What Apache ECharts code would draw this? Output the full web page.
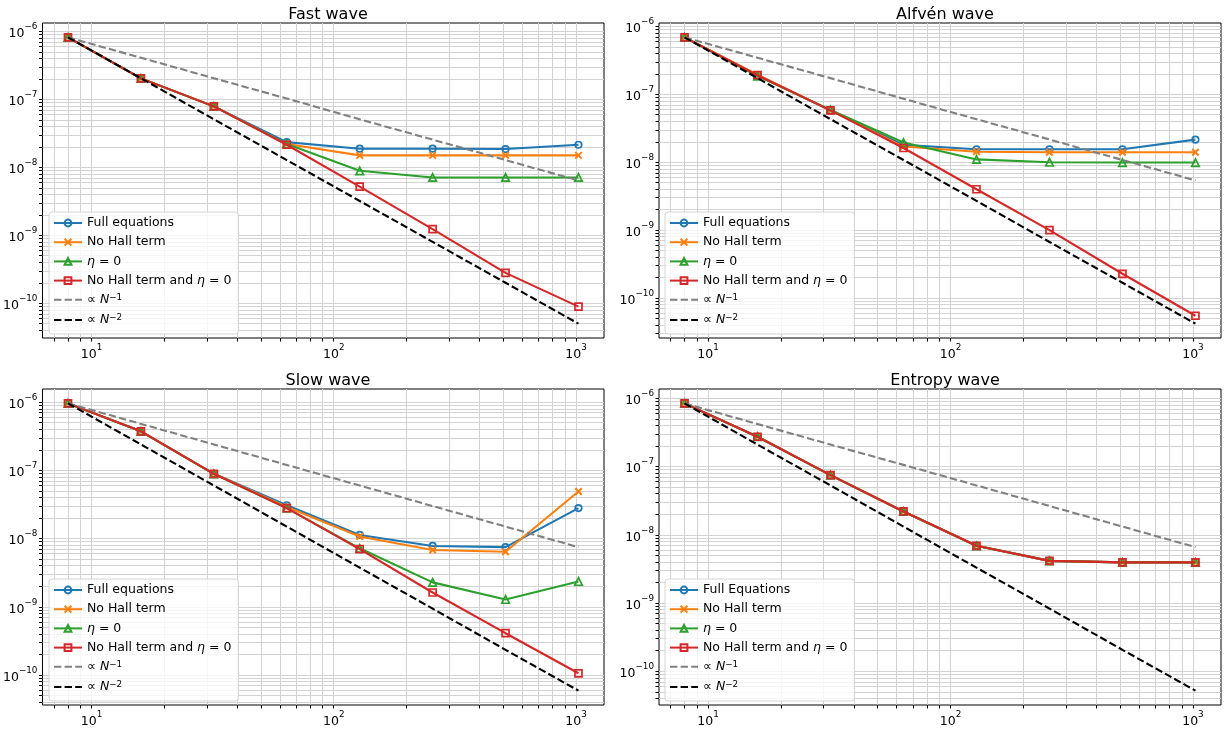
<!DOCTYPE html>
<html><head><meta charset="utf-8">
<script src="https://cdn.jsdelivr.net/npm/echarts@6/dist/echarts.min.js"></script>
<style>html,body{margin:0;padding:0;background:#fff}#c{width:1225px;height:729px}</style>
</head><body><div id="c"></div>
<script>
// ---------- data ----------
const N = [8, 16, 32, 64, 128, 256, 512, 1024];
const xMajorTicks = [10, 100, 1000];
const yMajorTicks = [1e-11, 1e-10, 1e-9, 1e-8, 1e-7, 1e-6, 1e-5];

const titles = ['Fast wave', 'Alfvén wave', 'Slow wave', 'Entropy wave'];
const fullNames = ['Full equations', 'Full equations', 'Full equations', 'Full Equations'];

const fastFull   = [8.2e-7, 2.04e-7, 7.9e-8, 2.35e-8, 1.88e-8, 1.88e-8, 1.86e-8, 2.15e-8];
const fastNoHall = [8.2e-7, 2.04e-7, 7.9e-8, 2.2e-8, 1.5e-8, 1.5e-8, 1.5e-8, 1.5e-8];
const fastEta0   = [8.2e-7, 2.04e-7, 7.9e-8, 2.2e-8, 8.9e-9, 7.1e-9, 7.1e-9, 7.1e-9];
const fastBoth   = [8.2e-7, 2.04e-7, 7.9e-8, 2.15e-8, 5.2e-9, 1.23e-9, 2.8e-10, 8.9e-11];
const fastRef1   = [8.2e-7, 4.1e-7, 2.05e-7, 1.03e-7, 5.1e-8, 2.56e-8, 1.28e-8, 6.4e-9];
const fastRef2   = [8.2e-7, 2.05e-7, 5.1e-8, 1.28e-8, 3.2e-9, 8.0e-10, 2.0e-10, 5.0e-11];

const alfFull    = [6.9e-7, 1.91e-7, 5.8e-8, 1.8e-8, 1.55e-8, 1.55e-8, 1.55e-8, 2.15e-8];
const alfNoHall  = [6.9e-7, 1.95e-7, 5.8e-8, 1.7e-8, 1.43e-8, 1.4e-8, 1.4e-8, 1.4e-8];
const alfEta0    = [6.9e-7, 1.85e-7, 5.9e-8, 1.95e-8, 1.1e-8, 1.0e-8, 9.9e-9, 9.9e-9];
const alfBoth    = [6.9e-7, 1.91e-7, 5.8e-8, 1.62e-8, 4.0e-9, 1.0e-9, 2.28e-10, 5.5e-11];
const alfRef1    = [6.9e-7, 3.45e-7, 1.73e-7, 8.6e-8, 4.3e-8, 2.16e-8, 1.08e-8, 5.4e-9];
const alfRef2    = [6.9e-7, 1.73e-7, 4.3e-8, 1.08e-8, 2.7e-9, 6.7e-10, 1.68e-10, 4.2e-11];

const slowFull   = [9.6e-7, 3.74e-7, 8.9e-8, 3.08e-8, 1.13e-8, 7.8e-9, 7.5e-9, 2.8e-8];
const slowNoHall = [9.6e-7, 3.74e-7, 8.9e-8, 2.9e-8, 1.07e-8, 6.8e-9, 6.4e-9, 4.9e-8];
const slowEta0   = [9.6e-7, 3.74e-7, 8.9e-8, 2.8e-8, 7.2e-9, 2.28e-9, 1.28e-9, 2.35e-9];
const slowBoth   = [9.6e-7, 3.74e-7, 8.9e-8, 2.8e-8, 7.0e-9, 1.62e-9, 4.1e-10, 1.06e-10];
const slowRef1   = [9.6e-7, 4.8e-7, 2.4e-7, 1.2e-7, 6.0e-8, 3.0e-8, 1.5e-8, 7.5e-9];
const slowRef2   = [9.6e-7, 2.4e-7, 6.0e-8, 1.5e-8, 3.75e-9, 9.4e-10, 2.34e-10, 5.9e-11];

const entFull    = [8.45e-7, 2.74e-7, 7.5e-8, 2.2e-8, 6.9e-9, 4.15e-9, 3.94e-9, 3.94e-9];
const entNoHall  = [8.45e-7, 2.74e-7, 7.5e-8, 2.2e-8, 6.9e-9, 4.15e-9, 3.94e-9, 3.94e-9];
const entEta0    = [8.45e-7, 2.74e-7, 7.5e-8, 2.2e-8, 6.9e-9, 4.15e-9, 3.94e-9, 3.94e-9];
const entBoth    = [8.45e-7, 2.74e-7, 7.5e-8, 2.2e-8, 6.9e-9, 4.15e-9, 3.94e-9, 3.94e-9];
const entRef1    = [8.45e-7, 4.2e-7, 2.1e-7, 1.06e-7, 5.3e-8, 2.64e-8, 1.32e-8, 6.6e-9];
const entRef2    = [8.45e-7, 2.1e-7, 5.3e-8, 1.32e-8, 3.3e-9, 8.3e-10, 2.06e-10, 5.2e-11];

const panelData = [
  [fastFull, fastNoHall, fastEta0, fastBoth, fastRef1, fastRef2],
  [alfFull, alfNoHall, alfEta0, alfBoth, alfRef1, alfRef2],
  [slowFull, slowNoHall, slowEta0, slowBoth, slowRef1, slowRef2],
  [entFull, entNoHall, entEta0, entBoth, entRef1, entRef2]
];

// ---------- layout / style ----------
const FONT = 'DejaVu Sans';
const grids = [
  {left: 42, top: 23, width: 562, height: 315},
  {left: 659, top: 23, width: 562, height: 315},
  {left: 42, top: 389, width: 562, height: 316},
  {left: 659, top: 389, width: 562, height: 316}
];
const legendPos = [{left: 49, top: 212}, {left: 665, top: 212}, {left: 49, top: 579}, {left: 665, top: 579}];

const colors = ['#1f77b4', '#ff7f0e', '#2ca02c', '#d62728', '#808080', '#000000'];
const symbols = ['circle', 'path://M0,0L10,10M10,0L0,10', 'triangle', 'rect', 'none', 'none'];
const symbolSizes = [6.5, 6.5, 7.5, 7, 0, 0];
const otherNames = ['No Hall term', 'η = 0', 'No Hall term and η = 0', '∝ N^-1', '∝ N^-2'];

const minorFactors = [1, 2, 3, 4, 5, 6, 7, 8, 9];
function logTicks(eLo, eHi) {
  const out = [];
  for (let e = eLo; e <= eHi; e++) for (const k of minorFactors) out.push(k * Math.pow(10, e));
  return out;
}
const xAllTicks = logTicks(0, 3);
const yAllTicks = logTicks(-12, -5);

function sup(v) {
  const e = Math.round(Math.log10(v));
  return '{b|10}{s|' + (e < 0 ? '−' + (-e) : e) + '}';
}
const labelRich = {
  b: {fontFamily: FONT, fontSize: 12.5, color: '#000', lineHeight: 18, verticalAlign: 'bottom'},
  s: {fontFamily: FONT, fontSize: 8.8, color: '#000', lineHeight: 18, verticalAlign: 'top'}
};

function pad(lo, hi) {
  const a = Math.log10(lo), b = Math.log10(hi), p = 0.05 * (b - a);
  return [Math.pow(10, a - p), Math.pow(10, b + p)];
}
const xr = pad(Math.min(...N), Math.max(...N));
const GRID_COLOR = '#d2d2d2';

const xAxis = [], yAxis = [], series = [], legend = [], title = [];
panelData.forEach((arrs, i) => {
  const all = [].concat(...arrs);
  const yr = pad(Math.min(...all), Math.max(...all));
  const g = grids[i];
  xAxis.push({
    type: 'log', logBase: 10, gridIndex: i, min: xr[0], max: xr[1],
    axisLine: {show: false},
    axisTick: {show: true, inside: false, length: 3.5, lineStyle: {color: '#000', width: 1}, customValues: xAllTicks},
    axisLabel: {show: true, margin: 5, customValues: xMajorTicks, formatter: v => sup(v), rich: labelRich},
    splitLine: {show: true, lineStyle: {color: GRID_COLOR, width: 1}},
    minorTick: {show: false}, minorSplitLine: {show: false}
  });
  yAxis.push({
    type: 'log', logBase: 10, gridIndex: i, min: yr[0], max: yr[1],
    axisLine: {show: false},
    axisTick: {show: true, inside: false, length: 3.5, lineStyle: {color: '#000', width: 1}, customValues: yAllTicks},
    axisLabel: {show: true, margin: 5, customValues: yMajorTicks, formatter: v => sup(v), rich: labelRich},
    splitLine: {show: true, lineStyle: {color: GRID_COLOR, width: 1}},
    minorTick: {show: false}, minorSplitLine: {show: false}
  });
  const names = [fullNames[i]].concat(otherNames);
  arrs.forEach((vals, j) => {
    const isRef = j >= 4;
    series.push({
      type: 'line', name: names[j], xAxisIndex: i, yAxisIndex: i,
      data: N.map((n, k) => [n, vals[k]]),
      symbol: symbols[j], symbolSize: symbolSizes[j], showSymbol: !isRef,
      lineStyle: isRef ? {color: colors[j], width: 2.1, type: [7.4, 3.2]} : {color: colors[j], width: 2.1},
      itemStyle: j === 1
        ? {color: colors[j], borderColor: colors[j], borderWidth: 2}
        : {color: 'rgba(255,255,255,0)', borderColor: colors[j], borderWidth: 1.7},
      emphasis: {disabled: true},
      silent: true, animation: false, z: 2 + j
    });
  });
  title.push({
    text: titles[i], left: g.left + g.width / 2, top: g.top - 21, textAlign: 'center',
    textStyle: {fontFamily: FONT, fontSize: 16, fontWeight: 'normal', color: '#000'}
  });
  legend.push({
    data: names.map((nm, j) => j >= 4
      ? {name: nm, itemStyle: {color: 'rgba(0,0,0,0)', borderWidth: 0, opacity: 0}}
      : {name: nm}),
    orient: 'vertical', left: legendPos[i].left, top: legendPos[i].top,
    padding: [4, 7, 6, 4], itemGap: 5.2, itemWidth: 28, itemHeight: 8.5,
    backgroundColor: 'rgba(255,255,255,0.8)', borderColor: '#d5d5d5', borderWidth: 1, borderRadius: 3,
    selectedMode: false,
    formatter: function (name) {
      if (name === 'η = 0') return '{i|η} = 0';
      if (name === 'No Hall term and η = 0') return 'No Hall term and {i|η} = 0';
      if (name === '∝ N^-1') return '∝ {i|N}{s|−1}';
      if (name === '∝ N^-2') return '∝ {i|N}{s|−2}';
      return name;
    },
    textStyle: {
      fontFamily: FONT, fontSize: 12.5, color: '#000', lineHeight: 14,
      rich: {
        i: {fontFamily: FONT, fontStyle: 'italic', fontSize: 12.5, lineHeight: 14},
        s: {fontFamily: FONT, fontSize: 8.8, lineHeight: 14, verticalAlign: 'top', padding: [0, 0, 6, 0]}
      }
    }
  });
});

const chart = echarts.init(document.getElementById('c'), null, {renderer: 'canvas'});
chart.setOption({
  animation: false,
  backgroundColor: '#fff',
  title: title,
  grid: grids.map(g => Object.assign({show: true, borderColor: '#000', borderWidth: 1, backgroundColor: 'transparent', containLabel: false}, g)),
  xAxis: xAxis, yAxis: yAxis, legend: legend, series: series
});
</script></body></html>
